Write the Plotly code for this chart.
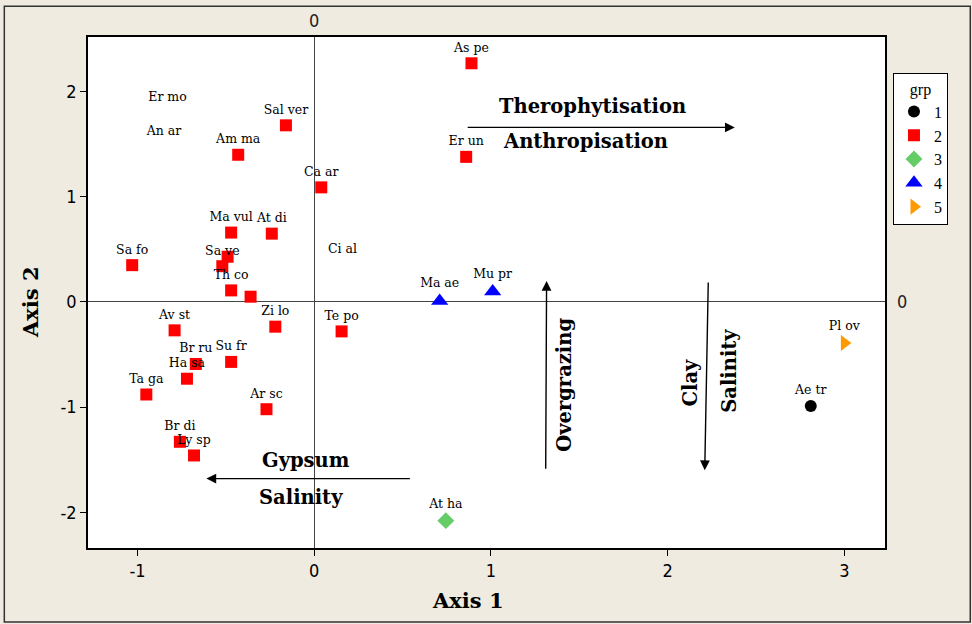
import plotly.graph_objects as go

# ---- data ----
species = ["As pe", "Er un", "Ca ar", "Sal ver", "Am ma", "Ma vul", "At di", "Sa fo", "",
           "Sa ve", "Th co", "", "Zi lo", "Te po", "Av st", "Su fr", "Br ru", "Ha sa",
           "Ta ga", "Ar sc", "Br di", "Ly sp", "Ma ae", "Mu pr", "At ha", "Pl ov", "Ae tr"]
axis1 = [0.89, 0.86, 0.04, -0.16, -0.43, -0.47, -0.24, -1.03, -0.49,
         -0.52, -0.47, -0.36, -0.22, 0.155, -0.79, -0.47, -0.67, -0.72,
         -0.95, -0.27, -0.76, -0.68, 0.71, 1.01, 0.745, 3.00, 2.81]
axis2 = [2.27, 1.38, 1.09, 1.68, 1.40, 0.66, 0.65, 0.35, 0.43,
         0.34, 0.11, 0.05, -0.235, -0.28, -0.27, -0.57, -0.59, -0.73,
         -0.88, -1.02, -1.33, -1.46, 0.01, 0.10, -2.08, -0.39, -0.99]
grp = [2, 2, 2, 2, 2, 2, 2, 2, 2,
       2, 2, 2, 2, 2, 2, 2, 2, 2,
       2, 2, 2, 2, 4, 4, 3, 5, 1]

# labels printed without a visible marker
free_labels = ["Er mo", "An ar", "Ci al"]
free_x = [-0.83, -0.85, 0.16]
free_y = [1.94, 1.62, 0.50]

groups = [1, 2, 3, 4, 5]
x_ticks = [-1, 0, 1, 2, 3]
x_tick_text = ["-1", "0", "1", "2", "3"]
y_ticks = [-2, -1, 0, 1, 2]
y_tick_text = ["-2", "-1", "0", "1", "2"]

group_symbols = {1: "circle", 2: "square", 3: "diamond", 4: "triangle-up", 5: "triangle-right"}
group_colors = {1: "#000000", 2: "#FF0000", 3: "#66CC66", 4: "#0000FF", 5: "#FF9900"}
group_sizes = {1: 12, 2: 12, 3: 13, 4: 15, 5: 14}

SERIF = "DejaVu Serif"
NARROW = "Liberation Sans Narrow, DejaVu Sans Condensed, Liberation Sans"
fig = go.Figure()

for g in groups:
    idx = [i for i, gg in enumerate(grp) if gg == g]
    fig.add_trace(go.Scatter(
        x=[axis1[i] for i in idx], y=[axis2[i] for i in idx],
        text=[species[i] for i in idx],
        mode="markers+text", textposition="top center",
        textfont=dict(family=SERIF, size=12.5, color="black"),
        marker=dict(symbol=group_symbols[g], color=group_colors[g], size=group_sizes[g]),
        name=str(g), cliponaxis=False,
    ))

fig.add_trace(go.Scatter(
    x=free_x, y=free_y, text=free_labels, mode="text",
    textfont=dict(family=SERIF, size=12.5, color="black"), showlegend=False,
))

annotations = []

def arrow(x0, y0, x1, y1):
    annotations.append(dict(x=x1, y=y1, ax=x0, ay=y0, xref="x", yref="y", axref="x", ayref="y",
                            showarrow=True, arrowhead=2, arrowsize=1.4, arrowwidth=1.4,
                            arrowcolor="black", text=""))

arrow(0.86, 1.66, 2.38, 1.66)
arrow(1.31, -1.6, 1.315, 0.2)
arrow(2.23, 0.2, 2.21, -1.6)
arrow(0.55, -1.68, -0.61, -1.68)

def label(x, y, t, angle=0, size=19.5):
    annotations.append(dict(x=x, y=y, xref="x", yref="y", text=t, showarrow=False, textangle=angle,
                            font=dict(family=SERIF, size=size, color="black")))

label(1.576, 1.86, "<b>Therophytisation</b>")
label(1.537, 1.53, "<b>Anthropisation</b>")
label(1.412, -0.79, "<b>Overgrazing</b>", angle=-90)
label(2.13, -0.77, "<b>Clay</b>", angle=-90)
label(2.35, -0.65, "<b>Salinity</b>", angle=-90)
label(-0.045, -1.51, "<b>Gypsum</b>")
label(-0.073, -1.86, "<b>Salinity</b>")

# axis titles
annotations.append(dict(x=(468 - 88) / 797, y=-(600 - 548) / 511, xref="paper", yref="paper",
                        showarrow=False, text="<b>Axis 1</b>", xanchor="center", yanchor="middle",
                        font=dict(family=SERIF, size=21, color="black")))
annotations.append(dict(x=-(88 - 30) / 797, y=(548 - 302) / 511, xref="paper", yref="paper", showarrow=False,
                        text="<b>Axis 2</b>", textangle=-90, xanchor="center", yanchor="middle",
                        font=dict(family=SERIF, size=21, color="black")))

# reference line labels
annotations.append(dict(x=0, y=1, xref="x", yref="paper", yanchor="bottom", yshift=4, text="0",
                        showarrow=False, font=dict(family=NARROW, size=18, color="#222")))
annotations.append(dict(x=1, y=0, xref="paper", yref="y", xanchor="left", xshift=10, text="0",
                        showarrow=False, font=dict(family=NARROW, size=18, color="#222")))

fig.update_layout(
    width=972, height=624,
    margin=dict(l=88, r=87, t=37, b=76),
    paper_bgcolor="#EFEBE1", plot_bgcolor="white",
    annotations=annotations,
    shapes=[dict(type="rect", xref="paper", yref="paper", x0=-0.105, x1=1.107, y0=-0.145, y1=1.06,
                 line=dict(color="#333", width=1.5), layer="below")],
    legend=dict(x=1.01, y=0.93, xanchor="left", yanchor="top",
                bgcolor="white", bordercolor="black", borderwidth=1,
                font=dict(family="Liberation Serif", size=16, color="black"),
                title=dict(text="grp", side="top center", font=dict(family="Liberation Serif", size=16)),
                itemwidth=30, tracegroupgap=2),
    xaxis=dict(range=[-1.28, 3.23], tickvals=x_ticks, ticktext=x_tick_text, showgrid=False,
               zeroline=True, zerolinecolor="#444", zerolinewidth=1,
               showline=True, mirror=True, linecolor="black", linewidth=1.5,
               ticks="outside", ticklen=6, tickcolor="black",
               tickfont=dict(family=NARROW, size=18, color="black")),
    yaxis=dict(range=[-2.34, 2.52], tickvals=y_ticks, ticktext=y_tick_text, showgrid=False,
               zeroline=True, zerolinecolor="#444", zerolinewidth=1,
               showline=True, mirror=True, linecolor="black", linewidth=1.5,
               ticks="outside", ticklen=6, tickcolor="black",
               tickfont=dict(family=NARROW, size=18, color="black")),
)

fig.write_html("out.html")
